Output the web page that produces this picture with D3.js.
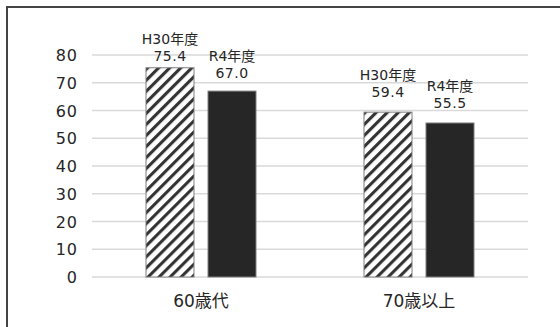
<!DOCTYPE html>
<html>
<head>
<meta charset="utf-8">
<script src="https://cdn.jsdelivr.net/npm/d3@7"></script>
<style>
  html, body { margin: 0; padding: 0; background: #fff; }
  svg { display: block; }
  text { font-family: "DejaVu Sans", "Noto Sans CJK JP", sans-serif; fill: #262626; }
</style>
</head>
<body>
<svg id="chart" width="560" height="327"></svg>
<script>
// ---- data ----
const categories = ["60歳代", "70歳以上"];
const series = ["H30年度", "R4年度"];
const valuesH30 = [75.4, 59.4];
const valuesR4 = [67.0, 55.5];
const yTicks = [0, 10, 20, 30, 40, 50, 60, 70, 80];

// ---- layout (not data) ----
const labelGap = [[7, 13], [15, 15]]; // gap between value label baseline and bar top

const svg = d3.select("#chart");

// outer frame
svg.append("rect").attr("x", 7).attr("y", 7).attr("width", 600).attr("height", 400)
  .attr("fill", "none").attr("stroke", "#444").attr("stroke-width", 2);

// pattern
const defs = svg.append("defs");
const pat = defs.append("pattern").attr("id", "hatch")
  .attr("patternUnits", "userSpaceOnUse")
  .attr("width", 7.8).attr("height", 7.8)
  .attr("patternTransform", "rotate(45)");
pat.append("rect").attr("width", 7.8).attr("height", 7.8).attr("fill", "#fff");
pat.append("rect").attr("x", 0).attr("y", 0).attr("width", 3.1).attr("height", 7.8).attr("fill", "#333");

const x0 = d3.scaleBand().domain(categories).range([92, 528]).paddingInner(0).paddingOuter(0);
const x1 = d3.scaleBand().domain(series).range([53.5, 164.5]).paddingInner(13 / 62).paddingOuter(0);
const y = d3.scaleLinear().domain([0, 80]).range([277, 55]);

// gridlines
svg.append("g").selectAll("line").data(yTicks).join("line")
  .attr("x1", 92).attr("x2", 528)
  .attr("y1", d => y(d)).attr("y2", d => y(d))
  .attr("stroke", "#d9d9d9").attr("stroke-width", 1.5);

// y tick labels
svg.append("g").selectAll("text").data(yTicks).join("text")
  .attr("x", 78).attr("y", d => y(d) + 6)
  .attr("text-anchor", "end")
  .attr("font-size", 16)
  .attr("letter-spacing", 1)
  .text(d => d);

// bars
const rows = categories.map((c, i) => ({
  cat: c,
  vals: [
    { s: series[0], v: valuesH30[i], gap: labelGap[i][0] },
    { s: series[1], v: valuesR4[i], gap: labelGap[i][1] }
  ]
}));

const groups = svg.append("g").selectAll("g").data(rows).join("g")
  .attr("transform", d => `translate(${x0(d.cat)},0)`);

groups.selectAll("rect").data(d => d.vals).join("rect")
  .attr("x", d => x1(d.s) + 0.5)
  .attr("y", d => y(d.v))
  .attr("width", x1.bandwidth() - 1)
  .attr("height", d => y(0) - y(d.v))
  .attr("fill", (d, i) => i === 0 ? "url(#hatch)" : "#262626")
  .attr("stroke", "#7f7f7f")
  .attr("stroke-width", 1);

// value labels (two lines)
groups.selectAll("text.lab").data(d => d.vals).join("text")
  .attr("class", "lab")
  .attr("text-anchor", "middle")
  .attr("font-size", 14)
  .each(function(d) {
    const t = d3.select(this);
    const cx = x1(d.s) + x1.bandwidth() / 2;
    const by = y(d.v) - d.gap;
    t.append("tspan").attr("x", cx).attr("y", by - 17).text(d.s);
    t.append("tspan").attr("x", cx).attr("y", by).attr("letter-spacing", 0.5).text(d.v.toFixed(1));
  });

// category labels
svg.append("g").selectAll("text").data(categories).join("text")
  .attr("x", d => x0(d) + x0.bandwidth() / 2)
  .attr("y", 307)
  .attr("text-anchor", "middle")
  .attr("font-size", 17)
  .text(d => d);
</script>
</body>
</html>
